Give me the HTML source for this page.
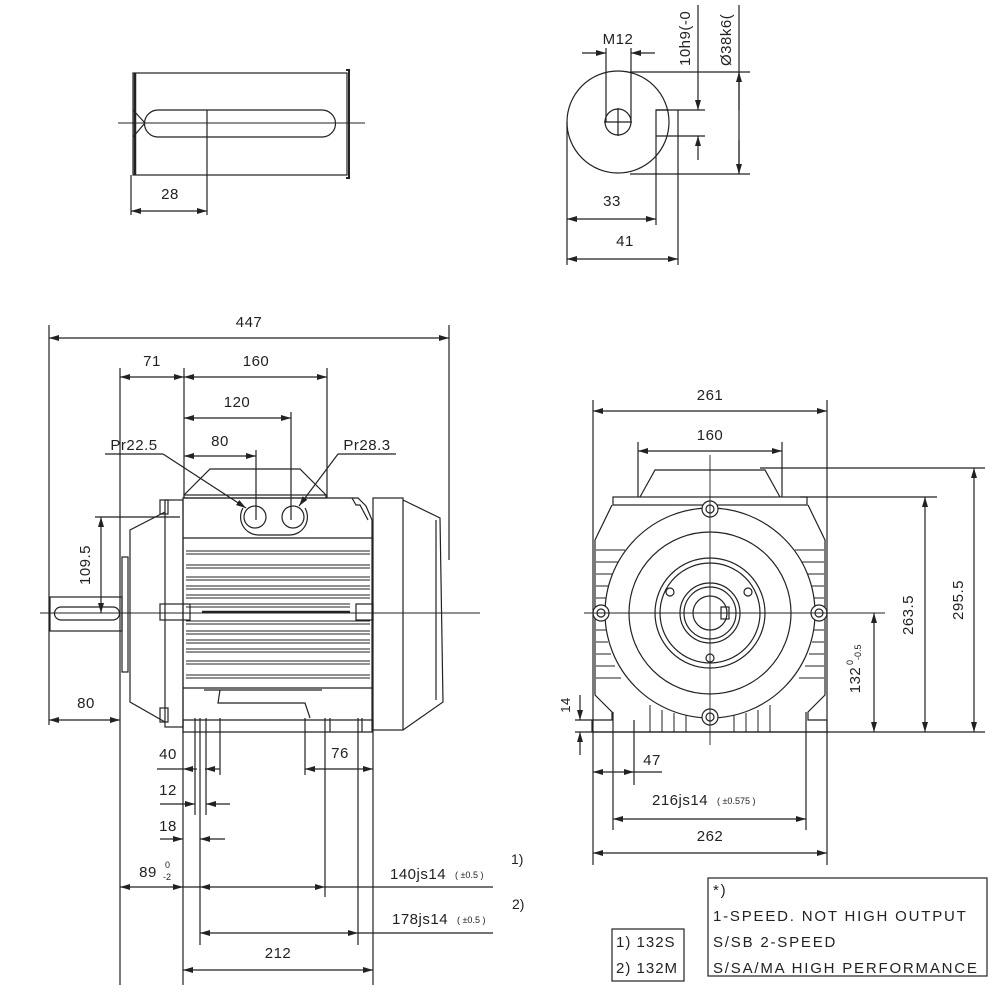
<!DOCTYPE html>
<html><head><meta charset="utf-8"><style>
html,body{margin:0;padding:0;background:#fff}
svg{display:block}
text{font-family:"Liberation Sans","DejaVu Sans",sans-serif;fill:#222}
</style></head><body>
<svg width="1000" height="1000" viewBox="0 0 1000 1000" xmlns="http://www.w3.org/2000/svg">
<defs>
<marker id="a" viewBox="0 0 10 6" refX="10" refY="3" markerWidth="10" markerHeight="6" orient="auto-start-reverse" markerUnits="userSpaceOnUse"><path d="M0,0L10,3L0,6z" fill="#222"/></marker>
</defs>
<g stroke="#222" stroke-width="1.2" fill="none">
<rect x="133" y="73" width="214" height="102"/>
<line x1="135" y1="73" x2="135" y2="175" stroke-width="2.5"/>
<path d="M346,70 L349,70 L349,178 L346,178" stroke-width="2"/>
<path d="M158,110 H322 A13.5,13.5 0 0 1 322,137 H158 A13.5,13.5 0 0 1 158,110 Z"/>
<path d="M133,110 L145,123 L133,137"/>
<line x1="118" y1="123" x2="365" y2="123" stroke-width="0.9"/>
<line x1="207" y1="110" x2="207" y2="215"/>
<line x1="131" y1="175" x2="131" y2="215"/>
<line x1="131" y1="211" x2="207" y2="211" marker-start="url(#a)" marker-end="url(#a)"/>

<circle cx="618" cy="122" r="51"/>
<circle cx="618" cy="122" r="13"/>
<line x1="604" y1="122" x2="632" y2="122"/>
<line x1="618" y1="108" x2="618" y2="136"/>
<line x1="606" y1="48" x2="606" y2="122"/>
<line x1="631" y1="48" x2="631" y2="122"/>
<line x1="582" y1="53" x2="606" y2="53" marker-end="url(#a)"/>
<line x1="655" y1="53" x2="631" y2="53" marker-end="url(#a)"/>
<path d="M669,110 H656 V225"/>
<line x1="678" y1="110" x2="678" y2="265"/>
<line x1="656" y1="110" x2="705" y2="110"/>
<line x1="656" y1="136" x2="705" y2="136"/>
<line x1="698" y1="5" x2="698" y2="110" marker-end="url(#a)"/>
<line x1="698" y1="160" x2="698" y2="136" marker-end="url(#a)"/>
<line x1="630" y1="72" x2="750" y2="72"/>
<line x1="630" y1="174" x2="750" y2="174"/>
<line x1="739" y1="5" x2="739" y2="174"/>
<line x1="739" y1="110" x2="739" y2="72" marker-end="url(#a)"/>
<line x1="739" y1="140" x2="739" y2="174" marker-end="url(#a)"/>
<line x1="567" y1="122" x2="567" y2="265"/>
<line x1="567" y1="219" x2="656" y2="219" marker-start="url(#a)" marker-end="url(#a)"/>
<line x1="567" y1="259" x2="678" y2="259" marker-start="url(#a)" marker-end="url(#a)"/>

<line x1="49" y1="325" x2="49" y2="725"/>
<line x1="449" y1="325" x2="449" y2="560"/>
<line x1="49" y1="338" x2="449" y2="338" marker-start="url(#a)" marker-end="url(#a)"/>
<line x1="120" y1="368" x2="120" y2="985"/>
<line x1="184" y1="368" x2="184" y2="498"/>
<line x1="327" y1="368" x2="327" y2="498"/>
<line x1="120" y1="377" x2="184" y2="377" marker-start="url(#a)" marker-end="url(#a)"/>
<line x1="184" y1="377" x2="327" y2="377" marker-start="url(#a)" marker-end="url(#a)"/>
<line x1="291" y1="412" x2="291" y2="520"/>
<line x1="184" y1="418" x2="291" y2="418" marker-start="url(#a)" marker-end="url(#a)"/>
<line x1="256" y1="450" x2="256" y2="520"/>
<line x1="184" y1="456" x2="256" y2="456" marker-start="url(#a)" marker-end="url(#a)"/>
<line x1="105" y1="454" x2="163" y2="454"/>
<line x1="163" y1="454" x2="246" y2="508" marker-end="url(#a)"/>
<line x1="338" y1="454" x2="396" y2="454"/>
<line x1="338" y1="454" x2="299" y2="506" marker-end="url(#a)"/>

<path d="M184,495 L210,469 H300 L326,495"/>
<rect x="184" y="495" width="142" height="3"/>
<path d="M183,498 H358 L366,506 L372,520 V732 H183 Z"/>
<line x1="183" y1="538" x2="372" y2="538"/>
<path d="M243,508 A18,18 0 0 0 258,535 H290 A18,18 0 0 0 305,508" />
<circle cx="255" cy="517" r="11"/>
<circle cx="293" cy="517" r="11"/>
<path d="M352,498 L356,505 H360 L368,520"/>
<g stroke-width="1.1">
<line x1="186" y1="551" x2="370" y2="551"/><line x1="186" y1="554" x2="370" y2="554"/>
<line x1="186" y1="565" x2="370" y2="565"/><line x1="186" y1="568" x2="370" y2="568"/>
<line x1="186" y1="577" x2="370" y2="577"/><line x1="186" y1="580" x2="370" y2="580"/>
<line x1="186" y1="586" x2="370" y2="586"/><line x1="186" y1="589" x2="370" y2="589"/>
<line x1="186" y1="595" x2="370" y2="595"/><line x1="186" y1="598" x2="370" y2="598"/>
<line x1="186" y1="604" x2="350" y2="604"/><line x1="186" y1="607" x2="350" y2="607"/>
<line x1="202" y1="612" x2="350" y2="612" stroke-width="2.5"/>
<line x1="186" y1="621" x2="370" y2="621"/><line x1="186" y1="624" x2="370" y2="624"/>
<line x1="186" y1="631" x2="370" y2="631"/><line x1="186" y1="634" x2="370" y2="634"/>
<line x1="186" y1="640" x2="370" y2="640"/><line x1="186" y1="643" x2="370" y2="643"/>
<line x1="186" y1="649" x2="370" y2="649"/><line x1="186" y1="652" x2="370" y2="652"/>
<line x1="186" y1="661" x2="370" y2="661"/><line x1="186" y1="664" x2="370" y2="664"/>
<line x1="186" y1="675" x2="370" y2="675"/><line x1="186" y1="678" x2="370" y2="678"/>
</g>
<line x1="183" y1="688" x2="372" y2="688"/>
<path d="M204,690 H322 M220,690 L218,703 H305 L310,718"/>
<line x1="183" y1="720" x2="372" y2="720"/>
<rect x="165" y="500" width="18" height="227"/>
<rect x="160" y="500" width="8" height="14"/><rect x="160" y="604" width="30" height="16"/><rect x="160" y="708" width="8" height="14"/>
<rect x="356" y="604" width="17" height="16"/>
<path d="M165,512 L130,530 V702 L165,722"/>
<rect x="122" y="557" width="6" height="115"/>
<rect x="373" y="498" width="30" height="232"/>
<path d="M403,500 L440,518 L443,702 L403,730"/>
<line x1="436" y1="520" x2="436" y2="700"/>
<rect x="50" y="597" width="72" height="34"/>
<path d="M61,607 H113 A6.5,6.5 0 0 1 113,620 H61 A6.5,6.5 0 0 1 61,607 Z"/>
<line x1="40" y1="613" x2="480" y2="613" stroke-width="0.9"/>
<line x1="95" y1="517" x2="180" y2="517"/>
<line x1="101" y1="517" x2="101" y2="613" marker-start="url(#a)" marker-end="url(#a)"/>
<line x1="49" y1="720" x2="120" y2="720" marker-start="url(#a)" marker-end="url(#a)"/>
<line x1="183" y1="720" x2="183" y2="985"/>
<line x1="195" y1="718" x2="195" y2="815"/>
<line x1="200" y1="718" x2="200" y2="945"/>
<line x1="206" y1="718" x2="206" y2="815"/>
<line x1="220" y1="718" x2="220" y2="775"/>
<line x1="157" y1="769" x2="183" y2="769"/>
<line x1="197" y1="769" x2="183" y2="769" marker-end="url(#a)"/>
<line x1="220" y1="769" x2="205" y2="769" marker-end="url(#a)"/>
<line x1="160" y1="804" x2="195" y2="804" marker-end="url(#a)"/>
<line x1="230" y1="804" x2="206" y2="804" marker-end="url(#a)"/>
<line x1="160" y1="839" x2="183" y2="839" marker-end="url(#a)"/>
<line x1="225" y1="839" x2="200" y2="839" marker-end="url(#a)"/>
<line x1="120" y1="887" x2="183" y2="887" marker-start="url(#a)" marker-end="url(#a)"/>
<line x1="183" y1="887" x2="200" y2="887"/>
<line x1="200" y1="887" x2="325" y2="887" marker-start="url(#a)" marker-end="url(#a)"/>
<line x1="325" y1="887" x2="493" y2="887"/>
<line x1="200" y1="933" x2="358" y2="933" marker-start="url(#a)" marker-end="url(#a)"/>
<line x1="358" y1="933" x2="493" y2="933"/>
<line x1="183" y1="970" x2="373" y2="970" marker-start="url(#a)" marker-end="url(#a)"/>
<line x1="305" y1="718" x2="305" y2="775"/>
<line x1="325" y1="718" x2="325" y2="897"/>
<line x1="330" y1="718" x2="330" y2="732"/>
<line x1="358" y1="718" x2="358" y2="945"/>
<line x1="362" y1="718" x2="362" y2="732"/>
<line x1="373" y1="720" x2="373" y2="985"/>
<line x1="305" y1="769" x2="325" y2="769" marker-start="url(#a)"/>
<line x1="325" y1="769" x2="358" y2="769"/>
<line x1="358" y1="769" x2="373" y2="769" marker-end="url(#a)"/>

<path d="M640,497 L655,470 H765 L780,497"/>
<rect x="613" y="497" width="194" height="8"/>
<path d="M612,505 L595,540 V695 L612,712 V720 H592 V732 H827 V720 H808 V712 L825,695 V540 L808,505"/>
<g stroke-width="1">
<line x1="596" y1="550" x2="625" y2="550"/><line x1="596" y1="562" x2="618" y2="562"/><line x1="596" y1="574" x2="613" y2="574"/><line x1="596" y1="586" x2="609" y2="586"/><line x1="596" y1="598" x2="607" y2="598"/><line x1="596" y1="630" x2="607" y2="630"/><line x1="596" y1="642" x2="608" y2="642"/><line x1="596" y1="654" x2="611" y2="654"/><line x1="596" y1="666" x2="615" y2="666"/><line x1="596" y1="678" x2="621" y2="678"/>
<line x1="824" y1="550" x2="795" y2="550"/><line x1="824" y1="562" x2="802" y2="562"/><line x1="824" y1="574" x2="807" y2="574"/><line x1="824" y1="586" x2="811" y2="586"/><line x1="824" y1="598" x2="813" y2="598"/><line x1="824" y1="630" x2="813" y2="630"/><line x1="824" y1="642" x2="812" y2="642"/><line x1="824" y1="654" x2="809" y2="654"/><line x1="824" y1="666" x2="805" y2="666"/><line x1="824" y1="678" x2="799" y2="678"/>
<line x1="650" y1="705" x2="650" y2="732"/><line x1="662" y1="710" x2="662" y2="732"/><line x1="674" y1="713" x2="674" y2="732"/><line x1="686" y1="715" x2="686" y2="732"/><line x1="734" y1="715" x2="734" y2="732"/><line x1="746" y1="713" x2="746" y2="732"/><line x1="758" y1="710" x2="758" y2="732"/><line x1="770" y1="705" x2="770" y2="732"/>
</g>
<circle cx="710" cy="613" r="105" fill="#fff"/>
<circle cx="710" cy="613" r="81"/>
<circle cx="710" cy="613" r="55"/>
<circle cx="710" cy="613" r="50"/>
<circle cx="710" cy="613" r="30"/>
<circle cx="710" cy="613" r="26"/>
<circle cx="710" cy="613" r="17"/>
<rect x="721" y="607" width="8" height="12"/>
<circle cx="670" cy="592" r="4"/><circle cx="748" cy="592" r="4"/><circle cx="710" cy="658" r="4"/>
<circle cx="710" cy="509" r="8" fill="#fff"/><circle cx="710" cy="509" r="4"/>
<circle cx="601" cy="613" r="8" fill="#fff"/><circle cx="601" cy="613" r="4"/>
<circle cx="819" cy="613" r="8" fill="#fff"/><circle cx="819" cy="613" r="4"/>
<circle cx="710" cy="717" r="8" fill="#fff"/><circle cx="710" cy="717" r="4"/>
<line x1="584" y1="613" x2="885" y2="613" stroke-width="0.9"/>
<line x1="710" y1="455" x2="710" y2="745" stroke-width="0.9"/>
<line x1="593" y1="400" x2="593" y2="865"/>
<line x1="827" y1="400" x2="827" y2="865"/>
<line x1="593" y1="411" x2="827" y2="411" marker-start="url(#a)" marker-end="url(#a)"/>
<line x1="638" y1="442" x2="638" y2="497"/>
<line x1="782" y1="442" x2="782" y2="497"/>
<line x1="638" y1="451" x2="782" y2="451" marker-start="url(#a)" marker-end="url(#a)"/>
<line x1="760" y1="468" x2="985" y2="468"/>
<line x1="800" y1="497" x2="937" y2="497"/>
<line x1="575" y1="732" x2="985" y2="732"/>
<line x1="974" y1="468" x2="974" y2="732" marker-start="url(#a)" marker-end="url(#a)"/>
<line x1="925" y1="497" x2="925" y2="732" marker-start="url(#a)" marker-end="url(#a)"/>
<line x1="874" y1="613" x2="874" y2="732" marker-start="url(#a)" marker-end="url(#a)"/>
<line x1="575" y1="720" x2="592" y2="720"/>
<line x1="580" y1="695" x2="580" y2="720" marker-end="url(#a)"/>
<line x1="580" y1="755" x2="580" y2="732" marker-end="url(#a)"/>
<line x1="613" y1="712" x2="613" y2="830"/>
<line x1="634" y1="720" x2="634" y2="785"/>
<line x1="806" y1="712" x2="806" y2="830"/>
<line x1="593" y1="772" x2="634" y2="772" marker-start="url(#a)" marker-end="url(#a)"/>
<line x1="634" y1="772" x2="662" y2="772"/>
<line x1="613" y1="819" x2="806" y2="819" marker-start="url(#a)" marker-end="url(#a)"/>
<line x1="593" y1="853" x2="827" y2="853" marker-start="url(#a)" marker-end="url(#a)"/>
<rect x="708" y="878" width="279" height="98"/>
<rect x="612" y="929" width="72" height="52"/>
</g>
<g font-size="15" text-anchor="middle" letter-spacing="0.5">
<text x="170" y="199">28</text>
<text x="618" y="44">M12</text>
<text x="612" y="206">33</text>
<text x="625" y="246">41</text>
<text x="249" y="327">447</text>
<text x="152" y="366">71</text>
<text x="256" y="366">160</text>
<text x="237" y="407">120</text>
<text x="220" y="446">80</text>
<text x="134" y="450">Pr22.5</text>
<text x="367" y="450">Pr28.3</text>
<text transform="translate(90,565) rotate(-90)">109.5</text>
<text x="86" y="708">80</text>
<text x="168" y="759">40</text>
<text x="168" y="795">12</text>
<text x="168" y="831">18</text>
<text x="148" y="877">89</text>
<text x="340" y="758">76</text>
<text x="278" y="958">212</text>
<text x="710" y="400">261</text>
<text x="710" y="440">160</text>
<text transform="translate(963,600) rotate(-90)">295.5</text>
<text transform="translate(913,615) rotate(-90)">263.5</text>
<text transform="translate(860,680) rotate(-90)">132</text>
<text transform="translate(570,705) rotate(-90)" font-size="13">14</text>
<text x="652" y="765">47</text>
<text x="710" y="841">262</text>
</g>
<text transform="translate(690,66) rotate(-90)" font-size="15" letter-spacing="0.5">10h9(-0</text>
<text transform="translate(731,66) rotate(-90)" font-size="15" letter-spacing="0.5">Ø38k6(</text>
<g font-size="9">
<text x="165" y="868">0</text><text x="163" y="880">-2</text>
<text transform="translate(853,665) rotate(-90)">0</text>
<text transform="translate(861,660) rotate(-90)">-0.5</text>
</g>
<text x="390" y="879" font-size="15" letter-spacing="0.5">140js14</text><text x="455" y="878" font-size="9">( ±0.5 )</text>
<text x="392" y="924" font-size="15" letter-spacing="0.5">178js14</text><text x="457" y="923" font-size="9">( ±0.5 )</text>
<text x="511" y="864" font-size="14">1)</text>
<text x="512" y="909" font-size="14">2)</text>
<text x="652" y="805" font-size="15" letter-spacing="0.5">216js14</text><text x="717" y="804" font-size="9">( ±0.575 )</text>
<g font-size="15" letter-spacing="1.8">
<text x="713" y="895">*)</text>
<text x="713" y="921">1-SPEED. NOT HIGH OUTPUT</text>
<text x="713" y="947">S/SB 2-SPEED</text>
<text x="713" y="973">S/SA/MA HIGH PERFORMANCE</text>
<text x="616" y="947" letter-spacing="1">1) 132S</text>
<text x="616" y="973" letter-spacing="1">2) 132M</text>
</g>
</svg>
</body></html>
